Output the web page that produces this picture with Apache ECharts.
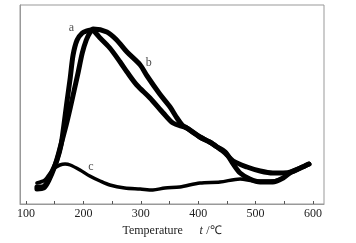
<!DOCTYPE html>
<html>
<head>
<meta charset="utf-8">
<script src="https://cdn.jsdelivr.net/npm/echarts@6/dist/echarts.min.js"></script>
<style>
  html, body { margin: 0; padding: 0; background: #fff; }
  #chart { width: 356px; height: 243px; }
</style>
</head>
<body>
<div id="chart"></div>
<script>
// curve a: early rise, lower descent, steep drop near 470
const aTemp = [119, 128, 137, 145, 154, 161, 166, 171, 177, 182, 189, 198, 206, 214, 229, 246, 264, 276, 293, 316, 339, 356, 380, 403, 420, 433, 447, 461, 473, 490, 508, 530, 548, 562, 578, 593]
const aVal  = [17, 17, 22, 32, 44, 59, 79, 101, 126, 149, 164, 171, 173, 174, 166, 156, 142, 132, 119, 106, 91, 81, 76, 67, 62, 57, 52, 40, 31, 25, 22, 22, 26, 32, 36, 40]
// curve b: later rise, upper descent
const bTemp = [119, 131, 140, 149, 156, 163, 170, 177, 184, 191, 198, 205, 211, 217, 241, 258, 276, 299, 311, 333, 351, 363, 372, 380, 403, 420, 433, 447, 461, 485, 508, 530, 548, 562, 578, 593]
const bVal  = [15, 16, 24, 36, 49, 64, 79, 96, 114, 132, 151, 164, 171, 175, 172, 164, 152, 139, 128, 110, 97, 86, 79, 76, 67, 62, 57, 51, 43, 37, 33, 31, 31, 32, 36, 40]
// curve c: small hump then flat
const cTemp = [119, 133, 142, 150, 159, 168, 177, 194, 211, 229, 246, 272, 299, 321, 342, 368, 403, 438, 473, 499, 525, 548, 562, 578, 593]
const cVal  = [21, 24, 31, 36, 39, 40, 39, 34, 28, 23, 19, 16, 15, 14, 16, 17, 21, 22, 25, 23, 23, 26, 32, 36, 40]

const labelNames = ['a', 'b', 'c']
const labelTemp = [179, 314, 213]
const labelVal = [176, 141, 37]

const xLabels = [100, 200, 300, 400, 500, 600]
const xTicks = [100, 150, 200, 250, 300, 350, 400, 450, 500, 550, 600]

const pairs = (xs, ys) => xs.map((x, i) => [x, ys[i]])
const font = 'Liberation Serif'

const chart = echarts.init(document.getElementById('chart'))

const curve = (name, data, width) => ({
  name: name,
  type: 'line',
  data: data,
  showSymbol: false,
  smooth: 0.3,
  silent: true,
  lineStyle: { color: '#000', width: width, cap: 'round', join: 'round' }
})

chart.setOption({
  animation: false,
  grid: {
    left: 20, right: 32, top: 5, bottom: 39,
    show: true, borderColor: '#999', borderWidth: 1
  },
  xAxis: {
    type: 'value',
    min: 89.5,
    max: 619.2,
    splitLine: { show: false },
    axisLine: { lineStyle: { color: '#999' } },
    axisTick: {
      inside: true, length: 3, customValues: xTicks,
      lineStyle: { color: '#555' }
    },
    axisLabel: {
      customValues: xLabels, color: '#222', fontFamily: font, fontSize: 12, margin: 4
    },
    name: '{n|Temperature}     {t|t} {n|/℃}',
    nameLocation: 'middle',
    nameGap: 20,
    nameTextStyle: {
      rich: {
        n: { fontFamily: font, fontSize: 12, color: '#222' },
        t: { fontFamily: font, fontSize: 12, fontStyle: 'italic', color: '#222' }
      }
    }
  },
  yAxis: {
    type: 'value',
    min: 0,
    max: 199,
    axisLine: { show: true, lineStyle: { color: '#999' } },
    axisTick: { show: false },
    axisLabel: { show: false },
    splitLine: { show: false }
  },
  series: [
    curve('a', pairs(aTemp, aVal), 5),
    curve('b', pairs(bTemp, bVal), 5),
    curve('c', pairs(cTemp, cVal), 3.5),
    {
      type: 'scatter',
      symbolSize: 0,
      silent: true,
      data: labelNames.map((n, i) => ({ name: n, value: [labelTemp[i], labelVal[i]] })),
      label: {
        show: true, position: 'inside', formatter: '{b}',
        fontFamily: font, fontSize: 12, color: '#222'
      }
    }
  ]
})
</script>
</body>
</html>
